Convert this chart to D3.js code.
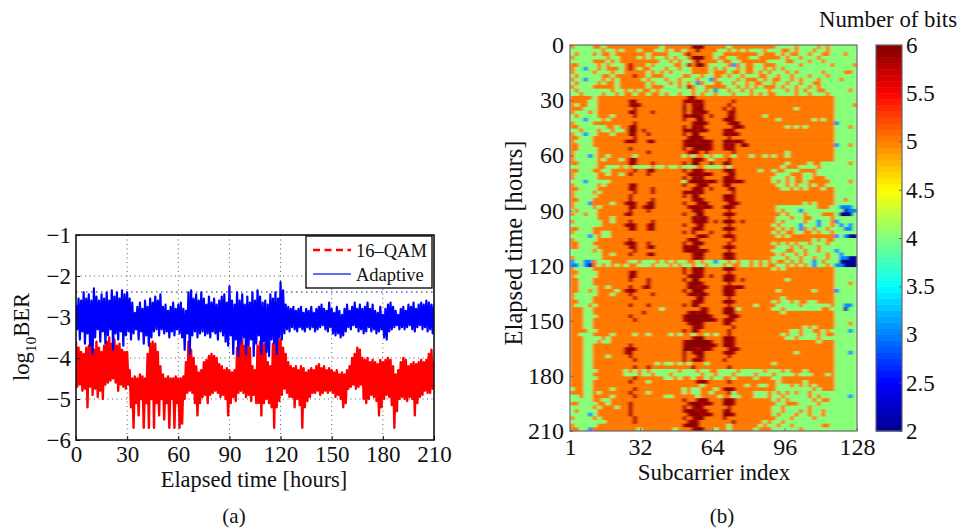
<!DOCTYPE html>
<html>
<head>
<meta charset="utf-8">
<script src="https://cdn.jsdelivr.net/npm/d3@7"></script>
<style>
  html, body { margin: 0; padding: 0; background: #fff; }
  svg { display: block; }
  text { font-family: "Liberation Serif", serif; fill: #111; }
</style>
</head>
<body>
<div id="chart"></div>
<script>
// Panel (a): samples every 1.5 hours, upper and lower edge of each noisy trace
const STEP_HOURS = 1.5;
const adaptiveHigh = [-2.7,-2.55,-2.6,-2.4,-2.55,-2.45,-2.6,-2.3,-2.5,-2.6,-2.45,-2.55,-2.4,-2.6,-2.35,-2.5,-2.4,-2.55,-2.35,-2.45,-2.4,-2.55,-2.65,-2.9,-2.75,-2.65,-2.8,-2.6,-2.75,-2.55,-2.65,-2.5,-2.6,-2.45,-2.75,-2.7,-2.85,-2.75,-2.65,-2.8,-2.7,-2.65,-2.8,-2.85,-2.4,-2.35,-2.55,-2.45,-2.6,-2.4,-2.55,-2.7,-2.5,-2.65,-2.55,-2.7,-2.6,-2.5,-2.45,-2.65,-2.25,-2.6,-2.7,-2.4,-2.6,-2.45,-2.7,-2.5,-2.65,-2.4,-2.6,-2.35,-2.5,-2.65,-2.6,-2.7,-2.45,-2.55,-2.4,-2.55,-2.15,-2.35,-2.7,-2.75,-2.8,-2.75,-2.85,-2.8,-2.75,-2.9,-2.8,-2.85,-2.75,-2.9,-2.8,-2.75,-2.7,-2.8,-2.85,-2.65,-2.8,-2.9,-2.75,-2.85,-2.95,-2.8,-2.7,-2.85,-2.75,-2.65,-2.8,-2.7,-2.8,-2.75,-2.65,-2.8,-2.7,-2.85,-2.9,-2.75,-2.95,-2.8,-2.7,-2.65,-2.75,-2.85,-2.95,-2.8,-2.75,-2.85,-2.7,-2.75,-2.65,-2.8,-2.7,-2.65,-2.7,-2.6,-2.65,-2.7,-2.7];
const adaptiveLow = [-3.3,-3.55,-3.35,-3.65,-3.4,-3.7,-3.9,-3.5,-3.3,-3.6,-3.35,-3.65,-3.45,-3.3,-3.8,-3.4,-3.55,-3.35,-3.7,-3.45,-3.35,-3.55,-3.4,-3.3,-3.55,-3.35,-3.65,-3.45,-3.7,-3.5,-3.35,-3.3,-3.45,-3.3,-3.4,-3.35,-3.5,-3.35,-3.45,-3.3,-3.4,-3.5,-3.8,-3.4,-3.9,-3.45,-3.35,-3.5,-3.4,-3.35,-3.45,-3.4,-3.5,-3.35,-3.4,-3.55,-3.35,-3.45,-3.6,-3.7,-3.45,-3.9,-3.55,-3.95,-3.65,-3.5,-3.9,-3.7,-3.55,-3.95,-3.65,-3.45,-3.9,-3.6,-3.85,-3.95,-3.55,-3.65,-3.9,-3.5,-3.55,-3.4,-3.3,-3.35,-3.25,-3.3,-3.35,-3.25,-3.3,-3.35,-3.25,-3.3,-3.25,-3.35,-3.3,-3.25,-3.2,-3.3,-3.35,-3.25,-3.4,-3.45,-3.4,-3.5,-3.45,-3.35,-3.25,-3.3,-3.2,-3.25,-3.35,-3.3,-3.4,-3.35,-3.25,-3.35,-3.3,-3.4,-3.35,-3.3,-3.5,-3.55,-3.35,-3.3,-3.25,-3.2,-3.3,-3.25,-3.3,-3.25,-3.2,-3.3,-3.35,-3.25,-3.2,-3.3,-3.25,-3.35,-3.3,-3.4,-3.35];
const qamHigh = [-3.6,-3.75,-3.85,-3.9,-3.75,-3.7,-3.55,-3.8,-3.6,-3.75,-3.85,-3.7,-3.6,-3.5,-3.65,-3.55,-3.7,-3.65,-3.8,-3.85,-3.85,-4.3,-4.5,-4.45,-4.5,-4.4,-4.45,-4.5,-3.9,-3.65,-3.6,-3.65,-3.85,-4.2,-4.4,-4.5,-4.45,-4.5,-4.5,-4.45,-4.5,-4.5,-4.45,-4.1,-3.6,-3.8,-4,-4.2,-4.35,-4.3,-4.1,-4.05,-3.95,-3.9,-3.95,-4,-4.15,-4.2,-4.3,-4.25,-4.3,-4.35,-4.3,-3.75,-3.6,-3.55,-3.7,-3.6,-3.75,-4.2,-4.3,-3.7,-3.6,-3.65,-3.65,-4.1,-4.2,-3.65,-3.6,-3.5,-3.55,-3.75,-3.9,-4.1,-4.2,-4.25,-4.2,-4.3,-4.2,-4.25,-4.35,-4.3,-4.25,-4.3,-4.2,-4.15,-4.25,-4.2,-4.3,-4.25,-4.3,-4.35,-4.3,-4.4,-4.35,-4.4,-4.3,-4.2,-4,-3.9,-3.75,-3.8,-4.0,-4.05,-4,-4.1,-4.05,-4.1,-4.15,-4.05,-4.1,-4.05,-4,-4.05,-4.2,-4.4,-4.3,-4.1,-4,-4.05,-4.2,-4.15,-4.1,-4.15,-4.1,-4.05,-4.1,-4.05,-3.9,-3.8,-4.1];
const qamLow = [-4.7,-4.65,-4.8,-4.75,-5.2,-4.7,-4.9,-4.75,-4.95,-4.8,-5,-4.65,-4.6,-4.55,-4.5,-4.6,-4.8,-4.65,-4.7,-4.75,-4.65,-5.2,-5.7,-5.1,-5.4,-5.0,-5.7,-5.1,-5.7,-5.0,-5.7,-5.1,-5.4,-5.0,-5.5,-5.1,-5.7,-5.0,-5.7,-5.1,-5.7,-5.6,-5.0,-4.85,-4.8,-4.85,-5.1,-5.4,-5.1,-4.95,-4.9,-5.1,-4.9,-4.85,-4.8,-4.85,-4.95,-4.9,-5,-5.4,-5.1,-4.95,-5.05,-4.85,-4.8,-4.85,-4.95,-4.9,-5.05,-4.9,-5.1,-5.1,-5.4,-5.1,-5,-5.1,-5.2,-5.7,-5.2,-5.05,-4.9,-4.75,-4.85,-4.95,-4.95,-5.2,-5,-5.15,-5.7,-5.2,-5.05,-4.95,-4.85,-4.85,-4.8,-4.9,-4.85,-4.8,-4.85,-4.8,-4.85,-4.95,-4.9,-5,-5.2,-5.1,-4.75,-4.7,-4.65,-4.75,-4.7,-4.65,-5.0,-5.1,-5,-4.9,-4.95,-5.05,-5.4,-5.2,-5,-4.9,-4.95,-5.15,-5.7,-5.3,-5,-4.95,-5,-5.05,-4.95,-5,-5.4,-5.1,-4.95,-4.9,-4.8,-4.85,-4.85,-4.75,-4.8];
const fecLimit = -2.39;
const berTicksY = [-1,-2,-3,-4,-5,-6];
const hourTicks = [0,30,60,90,120,150,180,210];

// Panel (b): bits per subcarrier block (2 subcarriers per char), one row = 2 hours.
// Spaces only split the row into readable groups. r sits between 5 and 6 bits.
const bitRows = [
"544445 545555 55555555 455555 56665555 54555555555 54444544445454 44444",
"444444 454454 55545554 454554 55655554 45454544454 44554544454454 44444",
"454445 455455 55555455 554445 r5555544 55555555455 54545544544554 44544",
"544444 445445 55545454 454544 56665545 54455544555 55454454445444 44444",
"444445 554545 55555555 445454 45655554 55445555554 44455444544544 44444",
"554444 545444 5r555454 444554 r5665444 45354554455 54444454444445 44445",
"544344 545554 5r545544 454454 45555454 54454554454 54544444444444 44444",
"544445 444544 55555454 545444 45555455 54554554545 44454544444544 44554",
"454444 455455 55r55455 544445 54454455 45445444554 45445444544454 44444",
"544344 454545 55554544 454454 44544354 44454555454 55445454445444 45444",
"454444 545545 55555454 445454 54354455 44544545544 54454454455444 44444",
"544445 555545 55555455 544454 r5445555 54454545455 54544544545444 44444",
"454444 444544 54545545 444444 45445434 45445454445 44454545445544 44454",
"445444 454454 55455455 454454 45454454 44544454545 54444544544454 44444",
"555554 555555 55555555 555555 r6555555 55555555555 55555555555555 44444",
"555544 555555 5r655555 55555r 6r6r5555 55r55555555 55555555555555 44444",
"545544 555555 5r6r5555 55555r 56r65555 5r555555555 55555555555555 44445",
"555444 555555 55r55555 555556 5r665555 r5r55555555 55555455555555 44444",
"544454 555555 56r555r5 55555r 56r6r555 5r655555555 55555555555555 44444",
"454444 555455 55r55555 555556 r66r5r55 56r55555545 55555555555555 44444",
"444344 454555 55555555 55555r 55665555 r6r55555555 54555555545455 44444",
"544445 555555 55r55555 555555 5r66r555 5r665555555 55555555555555 34444",
"554444 445545 5r655555 55555r 56r65555 55r6r555555 55545454555555 44454",
"445444 544544 5665r555 555556 r6r6r555 r6r55555555 55555555555555 44444",
"544344 555455 56r55r55 55555r 56655555 6r6r5555555 55555555555555 44444",
"554445 555555 55r55555 555555 r66r5555 5r555555555 55555555555555 44444",
"544445 555555 r6r55r65 55555r 66r66r55 66r6r555555 55555555555555 44444",
"554445 555555 55555555 55555r 66666r55 6r656r55555 55555555555555 34454",
"554444 555555 5r555555 55555r 5r666r55 r6r55555555 55555555555555 44444",
"544444 555555 55555r55 555555 r6r5r555 55r55555555 55545555555555 44444",
"544434 554555 55455555 555554 54554544 55455545545 45545555555555 44444",
"544444 545554 5r655555 555555 5r6r5455 5r555555555 55555555555555 44444",
"554444 555555 56r555r5 55555r 56655r55 6r555555555 55545555455444 44454",
"444444 554445 45444454 454454 44554444 54555555555 55455544445444 44444",
"554445 544555 55r55r65 55555r 5r6r5555 r6r55555455 45544455554444 44444",
"544444 554554 5r555r55 555555 r66r6r55 5r655555555 54445554454444 44444",
"544444 555555 55555555 55555r 56r65555 r6r55555555 44454554455544 44444",
"444344 444555 55555555 555554 r666r6r5 66r6r555555 45454554555554 44454",
"544444 545555 5r655555 55555r 55r66555 r6555555555 54454544545544 44444",
"554444 555555 56r555r5 555555 5r6r5r55 5r655555555 55445454555455 44444",
"544445 455555 55r555r5 555556 r6r65555 55r55555555 55555555555555 44444",
"544444 555555 5r555555 55555r 56655555 66r55555555 55555555555555 44444",
"554445 555555 5r5555r5 555555 5r6r5555 r6r55555555 55555555555555 44544",
"544435 555455 r6r55r65 55555r 55r66555 5r6r5555555 55555554545555 44444",
"544445 455555 56r5r665 555555 r66r6r55 66r55555555 54444444445554 43334",
"454444 555555 5r555r55 555555 5r6r5555 5r555555555 54544434444444 44233",
"544544 555555 r6555555 55555r 55665555 r6r55555555 55454445444555 42224",
"444444 555455 55555555 555555 56r6r555 5r555555555 54445445544445 44444",
"544444 455455 5r5555r5 555555 5r66r5r5 66r5r555555 54544445443445 34444",
"444444 455555 r6r55r65 55555r 55r65555 5r555555555 45444434443445 43434",
"554445 555555 56r55r65 555555 5r6r5555 66r55555555 54545435454454 44334",
"544445 544555 55555555 55555r 56555r55 5r555555555 45455445545445 44444",
"444434 544555 55555555 555555 55r6r555 r6r55555555 54545555555555 34322",
"544444 555555 5r555555 555555 r6r55555 55r55555555 55555555545455 44444",
"554445 555555 r6r55r55 55555r 5r665555 5r555555555 45454544544454 44444",
"554444 555555 56r55r65 555556 r6655555 r6r55555555 54445454445444 44444",
"444445 455555 55r55555 55555r 66r6r555 5r555555555 44455445445444 34444",
"444444 455455 5r555r65 555555 5r665555 66r55555555 54544545444454 43444",
"544444 455555 55555555 555555 5r6r5555 r6r55555555 44454454454454 43322",
"344335 444555 54454445 454544 55454434 45454454545 45545454434544 42222",
"334325 454545 45544454 445454 45445444 54554454545 54454545434454 33222",
"544445 555555 55555555 55555r 56r65555 66r55555555 45455555555555 44444",
"554444 555555 5r655555 55555r 5r6r5555 5r555555555 55555555555555 44444",
"544444 555555 56r55555 555555 r66r5r55 r6r55555555 55555555555555 44444",
"554445 555555 5r555r55 55555r 56655555 66r5r555555 55545555555555 44444",
"554445 555555 55555r55 555555 r66r5555 5r555555555 55555555555555 44454",
"554444 554555 5r55r655 555555 66r6r555 r6r6r555555 55555555555555 44444",
"554454 555545 r6r55555 55555r 56665555 66r55555555 54555555545555 34444",
"544444 555455 5r5555r5 555555 r6r6r555 r6r55555555 55555555555555 44444",
"544445 555555 55r55555 555555 55665555 5r555555555 55455555555555 44444",
"554445 555555 55555555 555555 5r6r5555 66r55555555 45445455445555 44444",
"544454 555555 5r555r55 55555r 56r55555 5r555554555 54444454444445 44334",
"555445 555555 55555555 455555 5556r555 r6r45555555 44544444444554 44244",
"555445 555555 5555r555 555555 r6r6r555 66r55555555 55455555555555 44444",
"555444 555555 5r555555 55555r 66666r55 5r6r5555555 55555555555555 44444",
"555445 555555 55r55555 55555r 666666r5 r6r55555555 55555555555555 44444",
"555445 555555 55555555 555555 r66r5555 r6555555555 55555555555555 44454",
"555445 555555 55555555 555555 5r6r5555 55r55555555 55555554545555 44444",
"555544 555555 55555555 55555r 56r55555 5r555555555 55554454455454 44434",
"554445 555455 55455455 554545 54554545 5r555555555 55454454445455 44444",
"555444 454555 55555555 555555 5r665555 66r55555555 55544544445444 44444",
"555444 544555 55555555 55555r 66666r55 r6r55555555 55555555554555 44444",
"555445 555555 5r555555 55555r 666666r5 66r55555555 55555555555555 44444",
"555445 555555 r6r55555 555556 66r66r55 5r6r5555555 55555555555555 44444",
"555445 555555 r6555555 55555r 5r665555 r6r55555555 55555455555555 44434",
"555445 554555 5r555555 55555r 55r65555 5r555555555 55555555555555 44444",
"555445 555555 55r55555 55555r 5r6r5555 r5555555555 55555555555555 44444",
"555445 555555 55555554 544545 45554555 55555555555 45555555555555 44444",
"555445 555555 55r55r55 555555 5r555555 5r555555555 55555555555555 44444",
"555444 555555 45454544 444454 44544554 44454444454 44545554555555 44444",
"555445 555555 44454454 445444 44454454 44544445444 54444544455545 44444",
"555444 555555 55r55555 544545 54554544 55455554555 44555555555555 44444",
"555445 555555 5r555455 555555 55r6r555 5r555555555 54555554555555 44444",
"555445 555555 55555555 555555 55545555 55555455445 54445454545555 44444",
"455445 555455 55r55555 555554 54455545 r6r55555555 54444444454555 44444",
"555445 455555 5r555455 555554 54455455 5r455554445 45454544544444 44444",
"445445 555455 55r55555 544555 55455554 55445554445 44544444545444 44434",
"444445 544555 55555555 55555r 55r66555 r6r55555555 45454444454554 44444",
"554444 554555 5r555555 555555 r66r6r55 66r55555555 54455544445444 44444",
"444445 455545 5r555555 55555r 5r6r5555 5r555555555 44544444544444 44444",
"454444 555555 5r555555 55555r 66r6r555 r6555555555 44544454544544 44444",
"444434 555555 5r555555 555555 r66r6r55 66r55555555 45444544544544 44444",
"544445 455555 55r55555 55555r 5r665555 r5555555555 54445444454444 44444",
"444444 445555 55r55555 555555 r6r55555 55r55555545 44544444444444 44444",
"544444 555555 55555555 55555r 66r55555 54555555454 45445444444554 44444",
"554435 555555 55545555 555455 5r665545 54555554555 44444454444444 44444"
];
const bitValueOf = { "2": 2, "3": 3, "4": 4, "5": 5, "r": 5.75, "6": 6 };
const subcarrierTicks = [1,32,64,96,128];
const bitTicks = [6,5.5,5,4.5,4,3.5,3,2.5,2];
const JET_LEVELS = 64;
const jetStops = ["#00008f","#0000ff","#00ffff","#ffff00","#ff0000","#800000"];
const jetDomain = [2,2.5,3.5,4.5,5.5,6];

const svg = d3.select("#chart").append("svg").attr("width", 961).attr("height", 529);

function styleAxis(g, color, width, fontSize) {
  g.select(".domain").remove();
  g.selectAll(".tick line").attr("stroke", color).attr("stroke-width", width);
  g.selectAll(".tick text").style("font-family", '"Liberation Serif", serif').style("font-size", fontSize + "px").attr("fill", "#111");
}

// ---------- panel (a) ----------
const a = { left: 76, right: 434, top: 235, bottom: 440 };
const xA = d3.scaleLinear().domain([0, 210]).range([a.left, a.right]);
const yA = d3.scaleLinear().domain([-1, -6]).range([a.top, a.bottom]);

svg.append("defs").append("clipPath").attr("id", "clipA").append("rect")
  .attr("x", a.left).attr("y", a.top).attr("width", a.right - a.left).attr("height", a.bottom - a.top);

const gridA = svg.append("g");
hourTicks.slice(1, -1).forEach((h) => {
  gridA.append("line").attr("x1", xA(h)).attr("x2", xA(h)).attr("y1", a.top).attr("y2", a.bottom)
    .attr("stroke", "#333").attr("stroke-width", 0.8).attr("stroke-dasharray", "1,3.5");
});
berTicksY.slice(1, -1).forEach((v) => {
  gridA.append("line").attr("x1", a.left).attr("x2", a.right).attr("y1", yA(v)).attr("y2", yA(v))
    .attr("stroke", "#333").attr("stroke-width", 0.8).attr("stroke-dasharray", "1,3.5");
});
gridA.append("line").attr("x1", a.left).attr("x2", a.right).attr("y1", yA(fecLimit)).attr("y2", yA(fecLimit))
  .attr("stroke", "#7f8db5").attr("stroke-width", 2).attr("stroke-dasharray", "1.5,3.5");

// noisy trace: alternate between the upper and lower edge
function zigzag(high, low) {
  const pts = [];
  high.forEach((v, i) => {
    pts.push([i * STEP_HOURS, v]);
    pts.push([i * STEP_HOURS + STEP_HOURS / 2, low[i]]);
  });
  return pts;
}
const traceLine = d3.line().x((d) => xA(d[0])).y((d) => yA(d[1]));

svg.append("path").datum(zigzag(qamHigh, qamLow))
  .attr("clip-path", "url(#clipA)").attr("d", traceLine)
  .attr("fill", "none").attr("stroke", "#ff0000").attr("stroke-width", 2.4).attr("stroke-linejoin", "round");
svg.append("path").datum(zigzag(adaptiveHigh, adaptiveLow))
  .attr("clip-path", "url(#clipA)").attr("d", traceLine)
  .attr("fill", "none").attr("stroke", "#0000ff").attr("stroke-width", 2.2).attr("stroke-linejoin", "round");

svg.append("g").attr("transform", `translate(0,${a.bottom})`)
  .call(d3.axisBottom(xA).tickValues(hourTicks).tickSizeInner(-4).tickPadding(6))
  .call(styleAxis, "#111", 1, 23);
svg.append("g").attr("transform", `translate(${a.left},0)`)
  .call(d3.axisLeft(yA).tickValues(berTicksY).tickSizeInner(-4).tickPadding(5).tickFormat((d) => "\u2212" + Math.abs(d)))
  .call(styleAxis, "#111", 1, 23);
svg.append("rect").attr("x", a.left).attr("y", a.top).attr("width", a.right - a.left).attr("height", a.bottom - a.top)
  .attr("fill", "none").attr("stroke", "#111").attr("stroke-width", 1.6);

// legend
svg.append("rect").attr("x", 306).attr("y", 236).attr("width", 126).attr("height", 52)
  .attr("fill", "#fff").attr("stroke", "#111").attr("stroke-width", 1.4);
svg.append("line").attr("x1", 313).attr("x2", 351).attr("y1", 250).attr("y2", 250)
  .attr("stroke", "#ff0000").attr("stroke-width", 2.4).attr("stroke-dasharray", "7,4.5");
svg.append("line").attr("x1", 313).attr("x2", 351).attr("y1", 274).attr("y2", 274)
  .attr("stroke", "#2a3cf0").attr("stroke-width", 1.4);
svg.append("text").attr("x", 356).attr("y", 257).style("font-size", "18.5px").text("16\u2013QAM");
svg.append("text").attr("x", 356).attr("y", 281).style("font-size", "18.5px").text("Adaptive");

svg.append("text").attr("x", 254).attr("y", 487).attr("text-anchor", "middle").style("font-size", "22.4px").text("Elapsed time [hours]");
svg.append("text").attr("x", 234).attr("y", 523).attr("text-anchor", "middle").style("font-size", "21px").text("(a)");

const yLabelA = svg.append("text").attr("transform", "translate(29,337) rotate(-90)").attr("text-anchor", "middle").style("font-size", "22.5px");
yLabelA.append("tspan").text("log");
yLabelA.append("tspan").attr("dy", 7).style("font-size", "15.5px").text("10");
yLabelA.append("tspan").attr("dy", -7).text("BER");

// ---------- panel (b) ----------
const b = { left: 570, right: 857, top: 45, bottom: 431 };
const cells = bitRows.map((r) => r.replace(/ /g, ""));
const colIdx = d3.range(d3.max(cells, (r) => r.length));
const rowIdx = d3.range(cells.length);
const xCell = d3.scaleBand().domain(colIdx).range([b.left, b.right]);
const yCell = d3.scaleBand().domain(rowIdx).range([b.top, b.bottom]);

const jet = d3.scaleLinear().domain(jetDomain).range(jetStops).clamp(true);
const quantJet = (v) => {
  const lvl = Math.min(JET_LEVELS - 1, Math.floor((v - 2) / 4 * JET_LEVELS));
  return jet(2 + (lvl + 0.5) / JET_LEVELS * 4);
};

const defs = svg.select("defs");
defs.append("filter").attr("id", "soft").attr("x", 0).attr("y", 0).attr("width", 1).attr("height", 1)
  .append("feGaussianBlur").attr("stdDeviation", "1.5 0.6");
defs.append("clipPath").attr("id", "clipB").append("rect")
  .attr("x", b.left).attr("y", b.top).attr("width", b.right - b.left).attr("height", b.bottom - b.top);

const heat = svg.append("g").attr("clip-path", "url(#clipB)").append("g").attr("filter", "url(#soft)");
cells.forEach((row, r) => {
  heat.selectAll(null).data(row.split("")).join("rect")
    .attr("x", (d, c) => xCell(c))
    .attr("y", yCell(r))
    .attr("width", xCell.bandwidth() + 0.5)
    .attr("height", yCell.bandwidth() + 0.5)
    .attr("fill", (d) => quantJet(bitValueOf[d]));
});

const xB = d3.scaleLinear().domain([1, 128]).range([b.left, b.right]);
const yB = d3.scaleLinear().domain([0, 210]).range([b.top, b.bottom]);
svg.append("g").attr("transform", `translate(0,${b.bottom})`)
  .call(d3.axisBottom(xB).tickValues(subcarrierTicks).tickSizeInner(-3).tickPadding(7))
  .call(styleAxis, "#555", 0.8, 24);
svg.append("g").attr("transform", `translate(${b.left},0)`)
  .call(d3.axisLeft(yB).tickValues(hourTicks).tickSizeInner(-3).tickPadding(6))
  .call(styleAxis, "#555", 0.8, 24);
svg.append("rect").attr("x", b.left).attr("y", b.top).attr("width", b.right - b.left).attr("height", b.bottom - b.top)
  .attr("fill", "none").attr("stroke", "#666").attr("stroke-width", 1.2);

svg.append("text").attr("x", 714).attr("y", 480).attr("text-anchor", "middle").style("font-size", "23px").text("Subcarrier index");
svg.append("text").attr("x", 722).attr("y", 523).attr("text-anchor", "middle").style("font-size", "21px").text("(b)");
svg.append("text").attr("transform", "translate(522,243) rotate(-90)").attr("text-anchor", "middle").style("font-size", "24.6px").text("Elapsed time [hours]");

// colour bar
const c = { left: 876, right: 902, top: 45, bottom: 431 };
const yBar = d3.scaleLinear().domain([2, 6]).range([c.bottom, c.top]);
const levels = d3.range(JET_LEVELS);
svg.append("g").selectAll("rect").data(levels).join("rect")
  .attr("x", c.left).attr("width", c.right - c.left)
  .attr("y", (l) => yBar(2 + (l + 1) / JET_LEVELS * 4))
  .attr("height", (c.bottom - c.top) / JET_LEVELS + 0.5)
  .attr("fill", (l) => jet(2 + (l + 0.5) / JET_LEVELS * 4));
svg.append("g").attr("transform", `translate(${c.right},0)`)
  .call(d3.axisRight(yBar).tickValues(bitTicks).tickSizeInner(-3).tickPadding(4).tickFormat((d) => String(d)))
  .call(styleAxis, "#555", 0.8, 23);
svg.append("rect").attr("x", c.left).attr("y", c.top).attr("width", c.right - c.left).attr("height", c.bottom - c.top)
  .attr("fill", "none").attr("stroke", "#666").attr("stroke-width", 1.2);
svg.append("text").attr("x", 888).attr("y", 27).attr("text-anchor", "middle").style("font-size", "22.8px").text("Number of bits");
</script>
</body>
</html>
